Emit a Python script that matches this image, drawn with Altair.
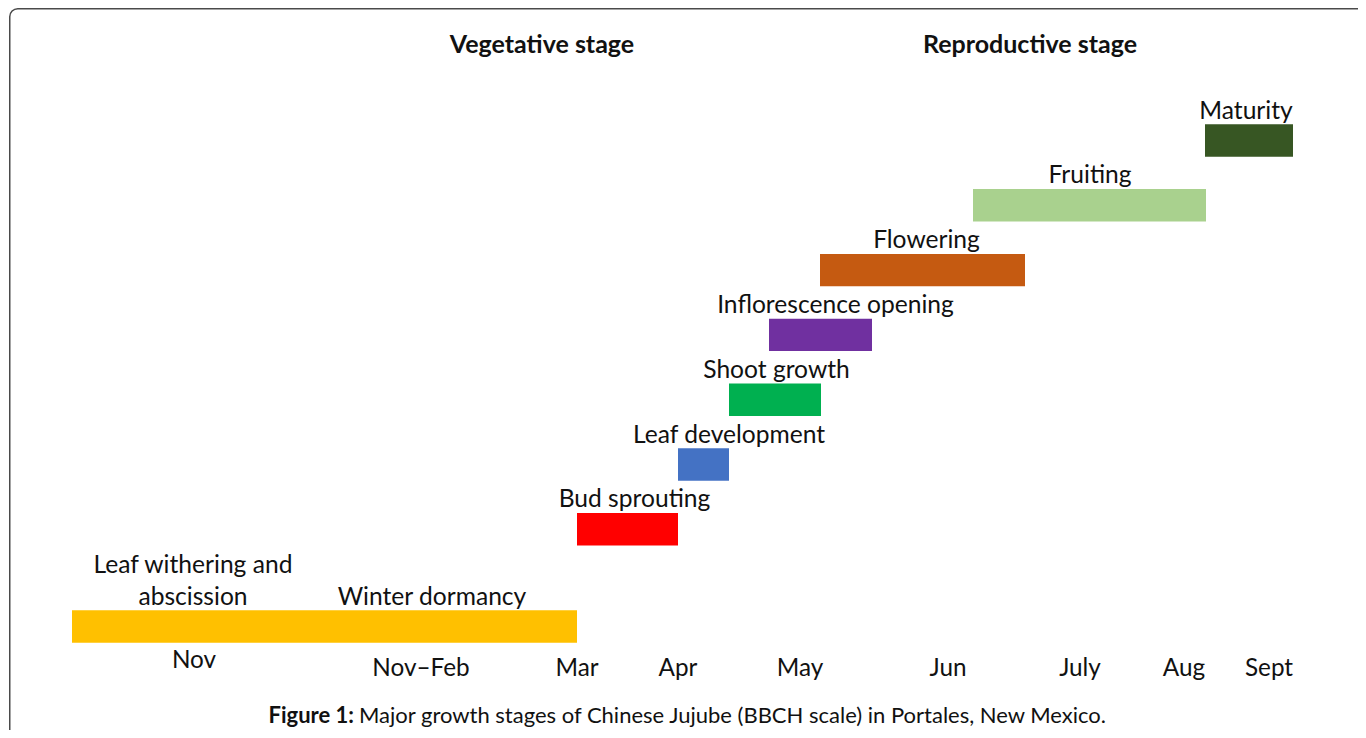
import altair as alt
import pandas as pd

# ---- data (x in timeline units, y in stage rows) ----
stages = ["Leaf withering, abscission & winter dormancy", "Bud sprouting",
          "Leaf development", "Shoot growth", "Inflorescence opening",
          "Flowering", "Fruiting", "Maturity"]
stage_start = [6.4, 56.9, 67.0, 72.1, 76.1, 81.2, 96.5, 119.7]
stage_end = [56.9, 67.0, 72.1, 81.3, 86.4, 101.7, 119.8, 128.5]
stage_row = [0, 1.5, 2.5, 3.5, 4.5, 5.5, 6.5, 7.5]
stage_colors = ["#FFC000", "#FF0000", "#4472C4", "#00B050", "#7030A0",
                "#C55A11", "#A9D18E", "#375623"]

label_text = ["Leaf withering and", "abscission", "Winter dormancy", "Bud sprouting",
              "Leaf development", "Shoot growth", "Inflorescence opening",
              "Flowering", "Fruiting", "Maturity"]
label_x = [18.5, 18.5, 42.4, 62.65, 72.1, 76.85, 82.75, 91.85, 108.2, 123.8]
label_row = [0.49, 0, 0, 1.5, 2.5, 3.5, 4.5, 5.5, 6.5, 7.5]

month_labels = ["Nov", "Nov–Feb", "Mar", "Apr", "May", "Jun", "July", "Aug", "Sept"]
month_x = [18.6, 41.3, 56.9, 67.0, 79.2, 94.0, 107.2, 117.6, 126.1]
month_row = [-0.535, -0.65, -0.65, -0.65, -0.65, -0.65, -0.65, -0.65, -0.65]

phase_labels = ["Vegetative stage", "Reproductive stage"]
phase_x = [53.4, 102.2]
phase_row = [8.97, 8.97]

caption_bold = "Figure 1:"
caption_rest = "Major growth stages of Chinese Jujube (BBCH scale) in Portales, New Mexico."
caption_x = [34.6, 35.1]
caption_row = [-1.38, -1.38]

# ---- tables ----
bars = pd.DataFrame({"stage": stages, "start": stage_start, "end": stage_end, "row": stage_row})
labels = pd.DataFrame({"text": label_text, "x": label_x, "row": label_row})
months = pd.DataFrame({"text": month_labels, "x": month_x, "row": month_row})
phases = pd.DataFrame({"text": phase_labels, "x": phase_x, "row": phase_row})
cap_b = pd.DataFrame({"text": [caption_bold], "x": [caption_x[0]], "row": [caption_row[0]]})
cap_r = pd.DataFrame({"text": [caption_rest], "x": [caption_x[1]], "row": [caption_row[1]]})

FONT = "Lato"
xs = alt.Scale(domain=[0, 135], nice=False, zero=False)
ys = alt.Scale(domain=[-1.597, 9.545], nice=False, zero=False)

bar_layer = alt.Chart(bars).transform_calculate(
    lo="datum.row - 0.25", hi="datum.row + 0.25"
).mark_rect().encode(
    x=alt.X("start:Q", scale=xs, axis=None),
    x2="end:Q",
    y=alt.Y("lo:Q", scale=ys, axis=None),
    y2="hi:Q",
    color=alt.Color("stage:N", scale=alt.Scale(domain=stages, range=stage_colors), legend=None),
)

label_layer = alt.Chart(labels).mark_text(
    font=FONT, fontSize=24.6, baseline="bottom", align="center",
    dy=-17, color="#111111"
).encode(
    x=alt.X("x:Q", scale=xs, axis=None),
    y=alt.Y("row:Q", scale=ys, axis=None),
    text="text:N",
)

month_layer = alt.Chart(months).mark_text(
    font=FONT, fontSize=24.3, baseline="middle", align="center", color="#111111"
).encode(
    x=alt.X("x:Q", scale=xs, axis=None),
    y=alt.Y("row:Q", scale=ys, axis=None),
    text="text:N",
)

phase_layer = alt.Chart(phases).mark_text(
    font=FONT, fontSize=25, fontWeight="bold", baseline="middle", align="center", color="#111111"
).encode(
    x=alt.X("x:Q", scale=xs, axis=None),
    y=alt.Y("row:Q", scale=ys, axis=None),
    text="text:N",
)

cap_b_layer = alt.Chart(cap_b).mark_text(
    font=FONT, fontSize=22, fontWeight="bold", baseline="middle", align="right", color="#111111"
).encode(
    x=alt.X("x:Q", scale=xs, axis=None),
    y=alt.Y("row:Q", scale=ys, axis=None),
    text="text:N",
)

cap_r_layer = alt.Chart(cap_r).mark_text(
    font=FONT, fontSize=22, baseline="middle", align="left", color="#111111"
).encode(
    x=alt.X("x:Q", scale=xs, axis=None),
    y=alt.Y("row:Q", scale=ys, axis=None),
    text="text:N",
)

frame = alt.Chart(bars).mark_rect(
    filled=False, stroke="#4a4a4a", strokeWidth=1.5, cornerRadius=8
).encode(
    x=alt.value(1.75), x2=alt.value(2000), y=alt.value(0.75), y2=alt.value(2000)
).transform_filter("datum.row == 0")

chart = alt.layer(
    frame, bar_layer, label_layer, month_layer, phase_layer, cap_b_layer, cap_r_layer
).properties(
    width=1350, height=722, padding=0,
    autosize=alt.AutoSizeParams(type="none"),
    background="white",
).configure_view(strokeWidth=0)

chart.save("out.html", embed_options={"renderer": "svg", "actions": False})
